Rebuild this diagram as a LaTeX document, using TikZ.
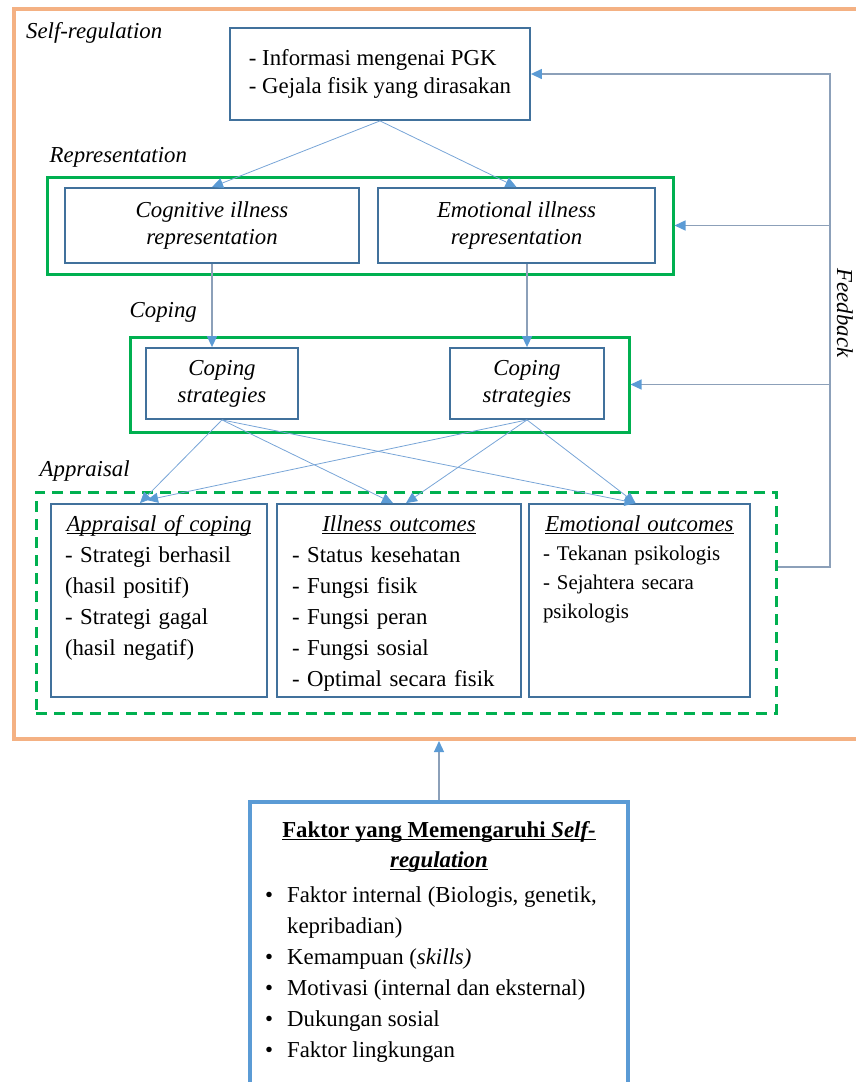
\documentclass[tikz,border=0pt]{standalone}
\usepackage{fontspec}
\setmainfont{Liberation Serif}
\usepackage{xcolor}
\usepackage{tikz}
\usetikzlibrary{positioning, arrows.meta, calc}
\definecolor{srorange}{RGB}{244, 177, 131}
\definecolor{srgreen}{RGB}{0, 176, 80}
\definecolor{srbox}{RGB}{65, 113, 156}
\definecolor{srblue}{RGB}{91, 155, 213}
\definecolor{srline}{RGB}{120, 165, 215}
\definecolor{srgray}{RGB}{140, 160, 185}
\newcommand{\undl}[1]{\setbox0\hbox{#1}\rlap{\rule[-2.6pt]{\wd0}{1.1pt}}\box0}
\AtBeginDocument{\fontsize{22.8}{28}\selectfont}

\begin{document}
\begin{tikzpicture}[x=1pt, y=-1pt,
  sbox/.style={draw=srbox, line width=1.8pt, align=center},
  gframe/.style={draw=srgreen, line width=3pt},
  grplbl/.style={font=\itshape, inner sep=0pt},
  listtxt/.style={inner sep=0pt, align=left, font=\fontsize{22.8}{31}\selectfont},
  tip/.style={-{Triangle[length=11pt, width=10pt, color=srblue]}},
  dline/.style={draw=srline, line width=0.8pt, tip},
  fbline/.style={draw=srgray, line width=1.3pt, tip}]
\useasboundingbox (0,0) rectangle (856,1082);
\clip (0,0) rectangle (856,1082);

% self-regulation frame
\node[draw=srorange, line width=4pt, minimum width=866pt, minimum height=730pt] (selfreg) at (447,374) {};
\node[grplbl, below right=15pt and 14pt of selfreg.north west] (srlbl) {Self-regulation};

\node[sbox, align=left, minimum width=300pt, minimum height=92pt] (info) at (380,74) {- Informasi mengenai PGK\\- Gejala fisik yang dirasakan};

% representation
\node[gframe, minimum width=626pt, minimum height=97pt] (repfr) at (360,225.5) {};
\node[grplbl, above right=8pt and 4pt of repfr.north west] (replbl) {Representation};
\node[sbox, font=\fontsize{22.8}{27}\selectfont\itshape, minimum width=294pt, minimum height=75pt] (cog) at (212,225.5) {Cognitive illness\\representation};
\node[sbox, font=\fontsize{22.8}{27}\selectfont\itshape, minimum width=277pt, minimum height=75pt] (emo) at (516.5,225.5) {Emotional illness\\representation};

% coping
\node[gframe, minimum width=499pt, minimum height=95pt] (copfr) at (379.5,384.5) {};
\node[grplbl, above right=12.5pt and 1pt of copfr.north west] (coplbl) {Coping};
\node[sbox, font=\fontsize{22.8}{27}\selectfont\itshape, minimum width=152pt, minimum height=71pt] (cop1) at (222,383.5) {Coping\\strategies};
\node[sbox, font=\fontsize{22.8}{27}\selectfont\itshape, minimum width=154pt, minimum height=71pt] (cop2) at (527,383.5) {Coping\\strategies};

% appraisal
\node[gframe, dashed, dash pattern=on 11pt off 7pt, minimum width=740pt, minimum height=221pt] (apprfr) at (406,602.5) {};
\node[grplbl, above right=8.5pt and 5pt of apprfr.north west] (applbl) {Appraisal};
\node[sbox, minimum width=216pt, minimum height=193pt] (app) at (159,600.5) {};
\node[sbox, minimum width=244pt, minimum height=193pt] (ill) at (399,600.5) {};
\node[sbox, minimum width=221pt, minimum height=193pt] (emout) at (639.5,600.5) {};
\node[listtxt, text width=188pt, below=12pt of app.north] (apptxt) {\makebox[\linewidth]{\undl{\textit{Appraisal of coping}}}\\- Strategi berhasil\\(hasil positif)\\- Strategi gagal\\(hasil negatif)};
\node[listtxt, text width=214pt, below=12pt of ill.north] (illtxt) {\makebox[\linewidth]{\undl{\textit{Illness outcomes}}}\\- Status kesehatan\\- Fungsi fisik\\- Fungsi peran\\- Fungsi sosial\\- Optimal secara fisik};
\node[listtxt, text width=193pt, font=\fontsize{20.9}{29}\selectfont, below=12pt of emout.north] (emouttxt) {\makebox[\linewidth]{\fontsize{22.8}{29}\selectfont\undl{\textit{Emotional outcomes}}}\\- Tekanan psikologis\\- Sejahtera secara\\psikologis};

\node[font=\itshape, rotate=-90, inner sep=0pt] (fblbl) at (845,313) {Feedback};

% faktor box
\node[draw=srblue, line width=4pt, minimum width=378pt, minimum height=300pt] (fak) at (439,952) {};
\node[font=\fontsize{22.8}{30}\selectfont\bfseries, align=center, inner sep=0pt, below=21pt of fak.north] (faktitle) {\undl{Faktor yang Memengaruhi \textit{Self-}}\\\undl{\textit{regulation}}};
\node[listtxt, below right=86pt and 17pt of fak.north west] (faklist) {\makebox[22pt][l]{\textbullet}Faktor internal (Biologis, genetik,\\\hspace*{22pt}kepribadian)\\\makebox[22pt][l]{\textbullet}Kemampuan (\textit{skills)}\\\makebox[22pt][l]{\textbullet}Motivasi (internal dan eksternal)\\\makebox[22pt][l]{\textbullet}Dukungan sosial\\\makebox[22pt][l]{\textbullet}Faktor lingkungan};

% connectors
\draw[dline] (info.south) -- (cog.north);
\draw[dline] (info.south) -- (emo.north);
\draw[fbline] (cog.south) -- (cog.south |- cop1.north);
\draw[fbline] (cop2.north |- emo.south) -- (cop2.north);
\draw[dline] (cop1.south) -- ([xshift=-19pt]app.north);
\draw[dline] (cop1.south) -- ([xshift=-6pt]ill.north);
\draw[dline] (cop1.south) -- ([xshift=-4pt]emout.north);
\draw[dline] (cop2.south) -- ([xshift=-12pt, yshift=3pt]app.north);
\draw[dline] (cop2.south) -- ([xshift=7pt]ill.north);
\draw[dline] (cop2.south) -- ([xshift=-4pt]emout.north);

% feedback
\coordinate (fbtop) at (830,74);
\coordinate (fbbot) at (830,567);
\draw[fbline] (fbbot -| apprfr.east) -- (fbbot) -- (fbtop) -- (info.east);
\draw[fbline] (fbtop |- repfr.east) -- (repfr.east);
\draw[fbline] (fbtop |- copfr.east) -- (copfr.east);
\draw[fbline] (fak.north) -- (fak.north |- selfreg.south);
\end{tikzpicture}
\end{document}
